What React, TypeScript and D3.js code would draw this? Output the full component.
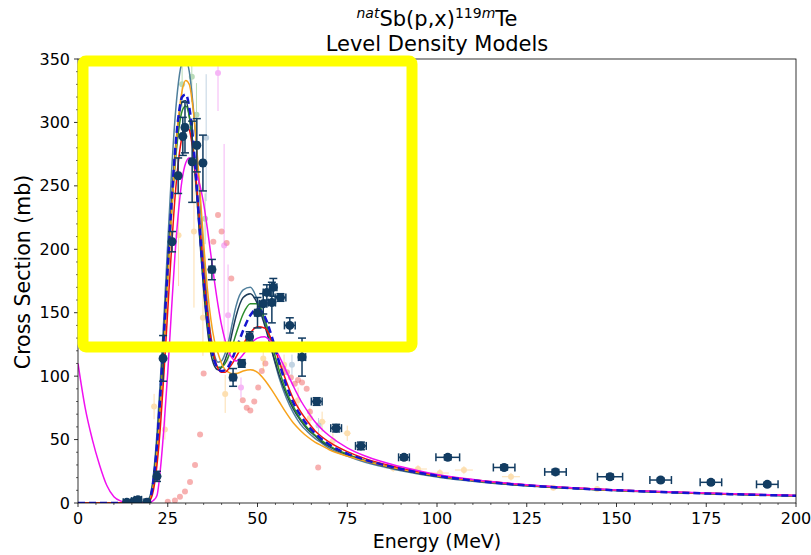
import React from "react";
import * as d3 from "d3";

// ---------- data ----------
const energyGrid = [0,2,4,6,8,10,12,14,16,18,19,20,21,22,23,24,25,26,27,28,29,30,31,32,33,34,35,36,37,38,39,40,41,42,43,44,46,48,50,52,54,56,58,60,62,64,66,68,70,75,80,90,100,120,140,160,180,200];

const modelSteel = [0,0,0,0,0,0,0,0,0, 0.5,1.5,5,22,55,100,150,205,258,302, 332,347,349,340,315,280,238,195,158,132, 117,111,112,118,128,142,155,168,170,160, 143,120,99,83,71,62,56,51,47,43, 37,32,25.5,20.5,14.5,11,8.6,6.9,5.5];
const modelNavy = [0,0,0,0,0,0,0,0,0, 0.5,1.5,4,18,48,90,138,188,235,275, 302,316,317,305,280,245,205,168,138,118, 108,105,107,113,122,135,147,162,165,157, 140,120,101,86,74,65,58,53,48,44.5, 38,33,26,21,14.8,11.2,8.8,7,5.6];
const modelGreen = [0,0,0,0,0,0,0,0,0, 0.3,1,3,15,42,82,128,178,225,265, 293,309,313,305,283,250,212,175,145,124, 112,107,107,110,116,124,133,149,157,157, 145,125,105,88,76,66,59,53.5,49,45, 38.5,33.5,26.5,21.3,15,11.3,8.9,7.1,5.7];
const modelOrange = [0,0,0,0,0,0,0,0,0, 0.3,1,3,14,40,78,124,175,225,270, 304,325,333,330,312,283,245,205,170,145, 128,118,110,105,103,102,102,104,105,103, 97,89,80,71,63,57,52,48,45,42, 37,33,26.5,21.5,15.2,11.5,9,7.2,5.8];
const modelRed = [0,0,0,0,0,0,0,0,0, 0.2,0.6,2,10,30,62,105,152,198,240, 270,289,297,294,278,252,218,183,152,130, 115,106,103,103,106,110,115,125,134,139, 138,128,112,96,82,72,64,57,52,48, 40.5,35,27.5,22,15.4,11.6,9.1,7.3,5.9];
const modelMagenta = [110,75,50,30,14,5,1.5,0.3,0, 0,0,0.5,2,6,28,62,103,150,195, 230,255,268,272,268,260,250,236,217,196, 175,156,140,128,119,114,112,117,125,130, 131,126,116,104,92,81,72,64,58,53, 43.5,37,28.5,22.5,15.6,11.7,9.2,7.4,6];
const modelBlue = [0,0,0,0,0,0,0,0,0, 0.3,1,3.5,17,46,88,136,186,234,276, 305,320,322,312,288,252,212,175,145,125, 112,106,104,105,108,114,121,136,148,153, 147,131,111,93,79,69,61,55,50,46, 39,34,26.8,21.5,15,11.3,8.9,7.1,5.7];

// main experimental data
const expE = [13.6,15.9,16.7,19.2,22.0,23.7,26.2,27.9,29.2,29.8,31.8,33.1,34.8,37.3,43.2,45.6,47.8,50.0,51.6,52.6,54.0,54.4,56.4,59.0,62.4,66.5,71.9,78.8,90.8,103.0,118.7,133.0,148.2,162.3,176.3,192.0];
const expXS = [0.5,1.5,2.5,0.5,21,114,206,258,289,296,269,282,268,184,99,110,131,150,157,166,158,170,162,140,115,80,59,45,36,36,28,24.5,20.7,18.1,16.3,14.7];
const expXerr = [1,1,1,0.8,0.6,0.5,0.5,0.5,0.5,0.5,0.5,0.5,0.5,0.8,0.8,0.8,0.8,0.8,1,1,1,1,1.5,1.5,1,1.5,1.5,1.5,1.5,3.3,3,3,3.5,3,3,3];
const expYerr = [1,1.5,2,1,4,18,8,14,15,20,32,21,22,8,7,3,4,12,8,6,16,7,3,6,15,3,3,3,2,2,2,2,2,1.5,1.5,1.5];

// faint other datasets
const pinkE = [25,27,28.4,29.8,31.2,32.6,34,35,37.7,39,40,41.4,42.7,45.9,47,48,49.1,50.2,51.2,52.2,55.8,57.2,58.2,59.3,60.4,61.3,62.4,63.7,64.6,66.9];
const pinkXS = [1,2,5,9,16.5,30,54,102,206,227,214,205,177,81,75,73,80,91,104,110,109,106,103,99,94,97,95,90,72,28];

const yellowE = [21.2,24.2,28,32.3,34.8,41,51.6,57.4,61.3,64.6,68,71,75,87.8,94.7,100.8,107.5,120.6,132.4,144.6];
const yellowXS = [76,58,211,214,146,86,114,109,81,67,64,49,55,27.6,26.8,23.6,26,20.7,12,11];
const yellowYerr = [10,8,40,60,30,15,10,8,10,8,8,6,6,3,3,3,3,3,2,2];
const yellowXerr = [0,0,0,0,0,0,0,0,0,0,1,1,1,2.5,2.5,2.5,2.5,2.5,0,0];

const greenE = [29,31.7,33,35.4];
const greenXS = [330,336,306,224];
const greenYerr = [20,20,25,20];

const lightBlueE = [35.7,59.6,67];
const lightBlueXS = [288,109,61];
const lightBlueYerr = [50,8,6];

const violetE = [39,40.7,41.8,45.4];
const violetXS = [339,203,148,91];
const violetYerr = [30,80,40,8];

const xTicks = [0,25,50,75,100,125,150,175,200];
const yTicks = [0,50,100,150,200,250,300,350];

const models = [
  { values: modelSteel, color: "#4f7f9c", width: 1.5, dash: "" },
  { values: modelNavy, color: "#1d3a57", width: 1.5, dash: "" },
  { values: modelGreen, color: "#2a8c2a", width: 1.5, dash: "" },
  { values: modelOrange, color: "#f7a21b", width: 1.5, dash: "" },
  { values: modelRed, color: "#f01010", width: 1.5, dash: "" },
  { values: modelMagenta, color: "#f010f0", width: 1.5, dash: "" },
  { values: modelBlue, color: "#1515d0", width: 2.5, dash: "7,4" },
];

const PL = 78, PR = 796, PT = 59, PB = 503;
const FONT = "DejaVu Sans, sans-serif";
const EXP_COLOR = "#123c62";

export default function App() {
  const x = d3.scaleLinear().domain([0, 200]).range([PL, PR]);
  const y = d3.scaleLinear().domain([0, 350]).range([PB, PT]);
  const line = d3
    .line<number>()
    .x((_, i) => x(energyGrid[i]))
    .y((d) => y(d))
    .curve(d3.curveMonotoneX);

  const xMinor = d3.range(0, 201, 5).filter((v) => v % 25 !== 0);
  const yMinor = d3.range(0, 351, 10).filter((v) => v % 50 !== 0);

  const faint = (
    es: number[],
    xs: number[],
    color: string,
    op: number,
    yerr?: number[],
    xerr?: number[]
  ) =>
    es.map((e, i) => (
      <g key={i} opacity={op}>
        {yerr && yerr[i] > 0 && (
          <line x1={x(e)} x2={x(e)} y1={y(xs[i] - yerr[i])} y2={y(xs[i] + yerr[i])} stroke={color} strokeWidth={1} />
        )}
        {xerr && xerr[i] > 0 && (
          <line x1={x(e - xerr[i])} x2={x(e + xerr[i])} y1={y(xs[i])} y2={y(xs[i])} stroke={color} strokeWidth={1} />
        )}
        <circle cx={x(e)} cy={y(xs[i])} r={3} fill={color} />
      </g>
    ));

  return (
    <svg
      width={811}
      height={555}
      style={{ position: "absolute", left: 0, top: 0, background: "#fff" }}
      fontFamily={FONT}
    >
      <defs>
        <clipPath id="plotclip">
          <rect x={PL} y={PT} width={PR - PL} height={PB - PT} />
        </clipPath>
      </defs>
      <rect x={0} y={0} width={811} height={555} fill="#fff" />

      <g clipPath="url(#plotclip)">
        {faint(pinkE, pinkXS, "#f07070", 0.55)}
        {faint(yellowE, yellowXS, "#fbb03b", 0.4, yellowYerr, yellowXerr)}
        {faint(greenE, greenXS, "#7fbf7f", 0.55, greenYerr)}
        {faint(lightBlueE, lightBlueXS, "#8fb0cc", 0.55, lightBlueYerr)}
        {faint(violetE, violetXS, "#ee70ee", 0.5, violetYerr)}

        {models.map((m, i) => (
          <path
            key={i}
            d={line(m.values) || ""}
            fill="none"
            stroke={m.color}
            strokeWidth={m.width}
            strokeDasharray={m.dash || undefined}
          />
        ))}

        {expE.map((e, i) => {
          const cx = x(e), cy = y(expXS[i]);
          const y0 = y(expXS[i] - expYerr[i]), y1 = y(expXS[i] + expYerr[i]);
          const x0 = x(e - expXerr[i]), x1 = x(e + expXerr[i]);
          return (
            <g key={i} stroke={EXP_COLOR} strokeWidth={1.5}>
              <line x1={cx} x2={cx} y1={y0} y2={y1} />
              <line x1={cx - 4} x2={cx + 4} y1={y0} y2={y0} />
              <line x1={cx - 4} x2={cx + 4} y1={y1} y2={y1} />
              <line x1={x0} x2={x1} y1={cy} y2={cy} />
              <line x1={x0} x2={x0} y1={cy - 4} y2={cy + 4} />
              <line x1={x1} x2={x1} y1={cy - 4} y2={cy + 4} />
              <circle cx={cx} cy={cy} r={4.5} fill={EXP_COLOR} stroke="none" />
            </g>
          );
        })}
      </g>

      {/* frame */}
      <rect x={PL} y={PT} width={PR - PL} height={PB - PT} fill="none" stroke="#000" strokeWidth={0.8} />

      {/* x ticks */}
      {xTicks.map((t) => (
        <g key={t}>
          <line x1={x(t)} x2={x(t)} y1={PB} y2={PB + 4} stroke="#000" strokeWidth={0.8} />
          <text x={x(t)} y={524} textAnchor="middle" fontSize={16} fill="#000">{t}</text>
        </g>
      ))}
      {xMinor.map((t) => (
        <line key={t} x1={x(t)} x2={x(t)} y1={PB} y2={PB + 2} stroke="#000" strokeWidth={0.6} />
      ))}
      {/* y ticks */}
      {yTicks.map((t) => (
        <g key={t}>
          <line x1={PL - 4} x2={PL} y1={y(t)} y2={y(t)} stroke="#000" strokeWidth={0.8} />
          <text x={PL - 8} y={y(t)} dy="0.35em" textAnchor="end" fontSize={16} fill="#000">{t}</text>
        </g>
      ))}
      {yMinor.map((t) => (
        <line key={t} x1={PL - 2} x2={PL} y1={y(t)} y2={y(t)} stroke="#000" strokeWidth={0.6} />
      ))}

      {/* axis labels */}
      <text x={(PL + PR) / 2} y={548} textAnchor="middle" fontSize={19} fill="#000">Energy (MeV)</text>
      <text transform={`translate(30, 272) rotate(-90)`} textAnchor="middle" fontSize={20.5} fill="#000">
        Cross Section (mb)
      </text>

      {/* title */}
      <text x={(PL + PR) / 2} y={26} textAnchor="middle" fontSize={21} fill="#000">
        <tspan fontStyle="italic" fontSize={14} dy={-8}>nat</tspan>
        <tspan dy={8}>Sb(p,x)</tspan>
        <tspan fontSize={14} dy={-8}>119</tspan>
        <tspan fontSize={14} fontStyle="italic">m</tspan>
        <tspan dy={8}>Te</tspan>
      </text>
      <text x={(PL + PR) / 2} y={51} textAnchor="middle" fontSize={21} fill="#000">Level Density Models</text>

      {/* yellow highlight box */}
      <rect x={83} y={61} width={329} height={286} rx={3} fill="none" stroke="#ffff00" strokeWidth={11} />
    </svg>
  );
}
